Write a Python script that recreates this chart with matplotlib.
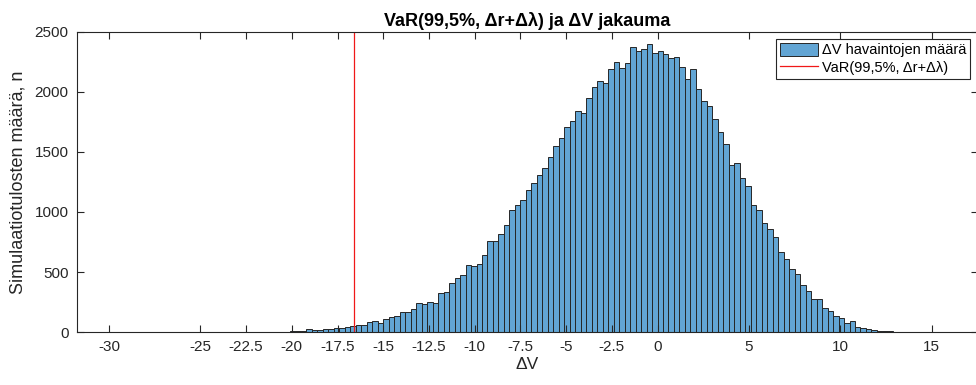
import numpy as np
import matplotlib
matplotlib.use("Agg")
import matplotlib.pyplot as plt

# histogram counts, bins of width 0.3 starting at -22.5
first_edge = -22.5
bin_width = 0.3
counts = [
    1, 0, 1, 0, 2, 1, 2, 3, 6, 9,
    12, 24, 18, 19, 21, 29, 31, 36, 42, 47,
    57, 58, 80, 89, 78, 108, 125, 136, 169, 169,
    194, 244, 233, 253, 239, 325, 334, 410, 450, 475,
    562, 548, 570, 642, 762, 760, 820, 888, 1017, 1061,
    1100, 1186, 1239, 1311, 1367, 1456, 1550, 1620, 1711, 1756,
    1845, 1828, 1950, 2045, 2090, 2075, 2192, 2250, 2203, 2244,
    2372, 2342, 2358, 2397, 2328, 2342, 2320, 2281, 2289, 2208,
    2106, 2189, 2022, 1928, 1886, 1778, 1669, 1570, 1395, 1406,
    1286, 1217, 1058, 1017, 906, 856, 794, 664, 606, 522,
    481, 392, 344, 272, 272, 203, 178, 135, 115, 78,
    95, 40, 30, 25, 19, 11, 8, 10, 3,
]
var_value = -16.6

xticks = [-30, -25, -22.5, -20, -17.5, -15, -12.5, -10, -7.5, -5, -2.5, 0, 5, 10, 15]
xtick_labels = ['-30', '-25', '-22.5', '-20', '-17.5', '-15', '-12.5', '-10',
                '-7.5', '-5', '-2.5', '0', '5', '10', '15']
yticks = [0, 500, 1000, 1500, 2000, 2500]

plt.rcParams['font.family'] = ['Liberation Sans', 'DejaVu Sans']
plt.rcParams['axes.unicode_minus'] = False

dark = '#262626'
edges = first_edge + bin_width * np.arange(len(counts))

fig = plt.figure(figsize=(9.76, 3.85), dpi=100)
ax = fig.add_axes([77 / 976, 1 - 332 / 385, 900.5 / 976, 300 / 385])

bars = ax.bar(edges, counts, width=bin_width, align='edge', color='#62a5d4',
              edgecolor=dark, linewidth=0.7)
vline = ax.axvline(var_value, color='#f01818', linewidth=0.9)

ax.set_xlim(-31.75, 17.5)
ax.set_ylim(0, 2500)
ax.set_xticks(xticks)
ax.set_xticklabels(xtick_labels)
ax.set_yticks(yticks)
ax.tick_params(direction='in', top=True, right=True, length=5, width=0.8,
               colors=dark, labelsize=11, pad=6)
for s in ax.spines.values():
    s.set_color(dark)
    s.set_linewidth(0.8)

ax.set_title('VaR(99,5%, Δr+Δλ) ja ΔV jakauma', fontsize=13, fontweight='bold',
             color='black', pad=4)
ax.set_xlabel('ΔV', fontsize=12.5, color=dark, labelpad=2)
ax.set_ylabel('Simulaatiotulosten määrä, n', fontsize=13, color=dark, labelpad=6)

leg = ax.legend([bars, vline], ['ΔV havaintojen määrä', 'VaR(99,5%, Δr+Δλ)'],
                loc='upper right', fontsize=10.5, frameon=True, fancybox=False,
                edgecolor=dark, framealpha=1, borderpad=0.25, handlelength=2.6,
                handleheight=1.0, handletextpad=0.3, labelspacing=0.2,
                borderaxespad=0.5)
leg.get_frame().set_linewidth(0.8)

fig.savefig('out.png', dpi=100)
